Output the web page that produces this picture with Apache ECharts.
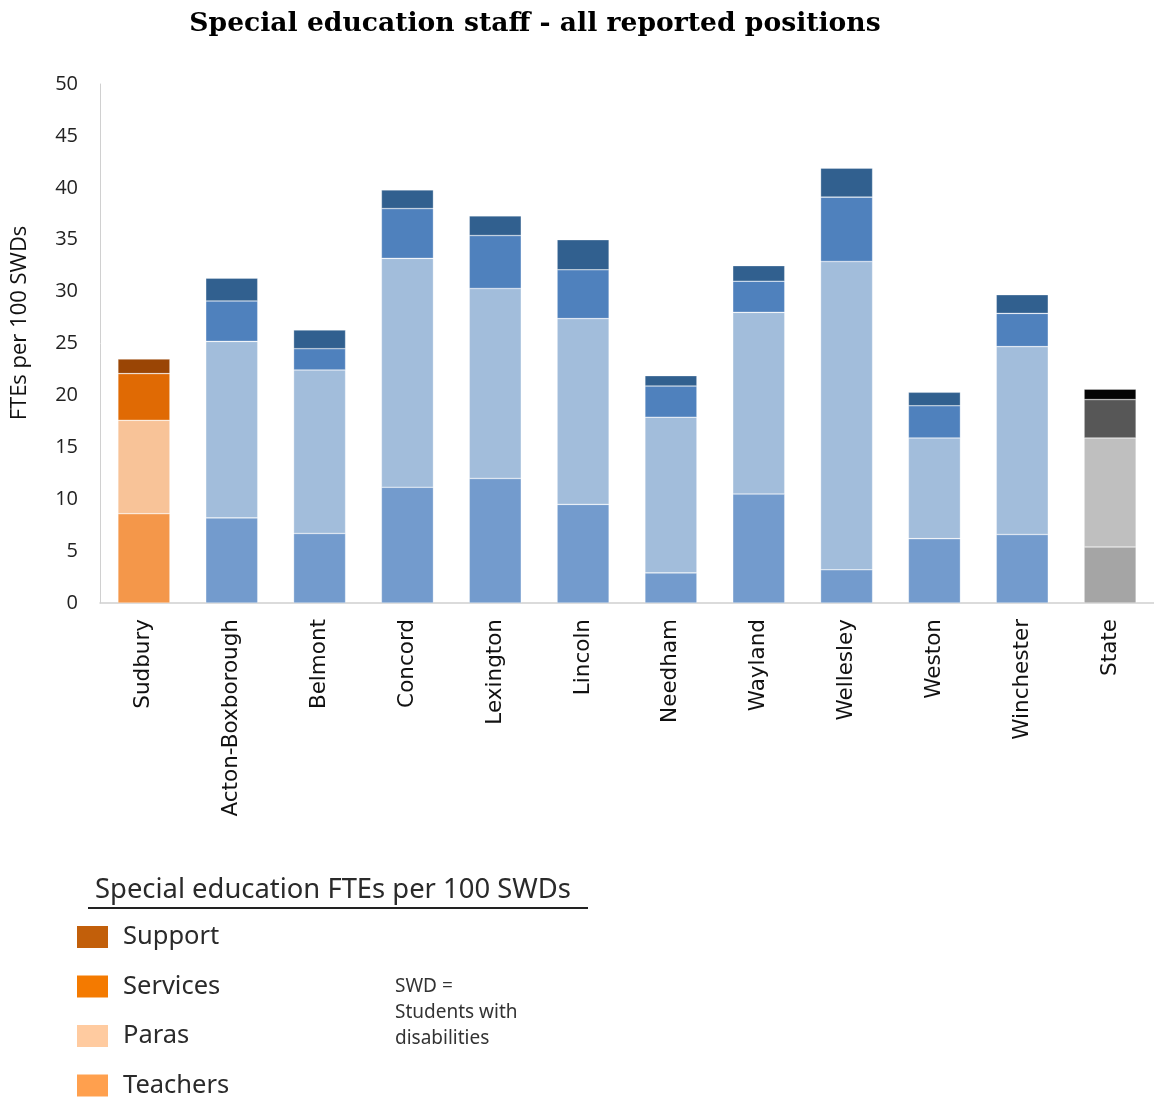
<!DOCTYPE html>
<html>
<head>
<meta charset="utf-8">
<script src="https://cdn.jsdelivr.net/npm/echarts@6/dist/echarts.min.js"></script>
<style>
html,body{margin:0;padding:0;background:#fff;}
#chart{width:1154px;height:1097px;}
</style>
</head>
<body>
<div id="chart"></div>
<script>
var categories = ['Sudbury','Acton-Boxborough','Belmont','Concord','Lexington','Lincoln','Needham','Wayland','Wellesley','Weston','Winchester','State'];
var teachers = [8.6, 8.2, 6.7, 11.15, 12.0, 9.5, 2.9, 10.5, 3.2, 6.2, 6.6, 5.4];
var paras    = [9.0, 17.0, 15.75, 22.05, 18.3, 17.9, 15.0, 17.5, 29.7, 9.7, 18.1, 10.5];
var services = [4.5, 3.9, 2.05, 4.8, 5.1, 4.7, 3.0, 3.0, 6.2, 3.1, 3.2, 3.7];
var support  = [1.4, 2.2, 1.8, 1.8, 1.9, 2.9, 1.0, 1.5, 2.8, 1.3, 1.8, 1.0];
var yTicks = [0, 5, 10, 15, 20, 25, 30, 35, 40, 45, 50];
var legendNames = ['Support','Services','Paras','Teachers'];

var palettes = {
  orange: {Teachers:'#F4974A', Paras:'#F8C398', Services:'#E06A04', Support:'#9A4505'},
  blue:   {Teachers:'#739BCD', Paras:'#A2BDDB', Services:'#4F81BD', Support:'#31608F'},
  gray:   {Teachers:'#A5A5A5', Paras:'#BFBFBF', Services:'#575757', Support:'#050505'}
};
var legendColors = {Support:'#C25F0A', Services:'#F47A00', Paras:'#FFCBA0', Teachers:'#FFA04E'};
function groupOf(name){ return name === 'Sudbury' ? 'orange' : (name === 'State' ? 'gray' : 'blue'); }

function makeSeries(name, values){
  return {
    name: name,
    type: 'bar',
    stack: 'total',
    barWidth: 52,
    itemStyle: {color: legendColors[name]},
    data: values.map(function(v, i){
      return {value: v, itemStyle: {color: palettes[groupOf(categories[i])][name], borderColor: 'rgba(255,255,255,0.5)', borderWidth: 0.6}};
    })
  };
}

var legends = legendNames.map(function(n, i){
  return {
    orient: 'vertical', left: 77, top: 924 + i * 49.5, padding: 0,
    data: [n], itemWidth: 31, itemHeight: 22, icon: 'rect',
    textStyle: {fontFamily: 'Noto Sans', fontSize: 25.5, color: '#2a2a2a', padding: [0,0,0,10]}
  };
});

var chart = echarts.init(document.getElementById('chart'), null, {renderer:'canvas'});
chart.setOption({
  animation: false,
  backgroundColor: '#fff',
  title: {
    text: 'Special education staff - all reported positions',
    left: 530, top: 6, textAlign: 'center',
    textStyle: {fontFamily: 'DejaVu Serif', fontWeight: 'bold', fontSize: 26.6, color: '#000'}
  },
  grid: {left: 100, right: 0, top: 84, bottom: 494, containLabel: false},
  legend: legends,
  xAxis: {
    type: 'category', data: categories,
    axisLine: {lineStyle: {color: '#d0d0d0', width: 1.5}},
    axisTick: {show: false},
    axisLabel: {rotate: 90, interval: 0, margin: 16, fontFamily: 'DejaVu Sans', fontSize: 21.5, color: '#111'}
  },
  yAxis: {
    type: 'value', min: 0, max: 50, interval: 5,
    axisLine: {show: true, lineStyle: {color: '#d0d0d0', width: 1}},
    axisTick: {show: false},
    splitLine: {show: false},
    axisLabel: {margin: 22, fontFamily: 'Open Sans', fontSize: 20, color: '#222',
      formatter: function(v){ return yTicks.indexOf(v) >= 0 ? String(v) : ''; }}
  },
  graphic: [
    {type: 'text', x: 20, y: 323, rotation: Math.PI / 2,
     style: {text: 'FTEs per 100 SWDs', font: '22px "Open Sans"', fill: '#111', textAlign: 'center', textVerticalAlign: 'middle'}},
    {type: 'text', left: 95, top: 877, style: {text: 'Special education FTEs per 100 SWDs', font: '27.4px "Noto Sans"', fill: '#2a2a2a'}},
    {type: 'line', shape: {x1: 88, y1: 908, x2: 588, y2: 908}, style: {stroke: '#222', lineWidth: 2}},
    {type: 'text', left: 395, top: 974, style: {text: 'SWD =\nStudents with\ndisabilities', font: '19px "Noto Sans"', fill: '#333', lineHeight: 26}}
  ],
  series: [
    makeSeries('Teachers', teachers),
    makeSeries('Paras', paras),
    makeSeries('Services', services),
    makeSeries('Support', support)
  ]
});
</script>
</body>
</html>
